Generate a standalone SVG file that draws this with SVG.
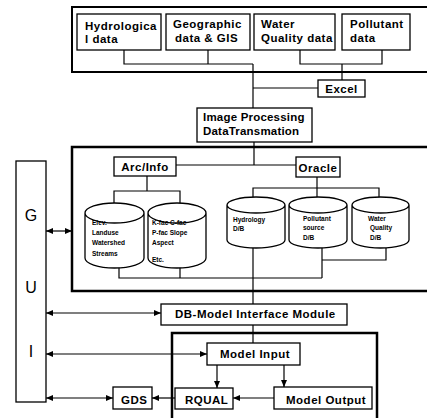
<svg xmlns="http://www.w3.org/2000/svg" width="427" height="418" viewBox="0 0 427 418">
<defs>
<marker id="ah" markerWidth="7" markerHeight="6" refX="7" refY="3" orient="auto-start-reverse" markerUnits="userSpaceOnUse"><path d="M0,0 L7,3 L0,6 z" fill="#000"/></marker>
</defs>
<style>
.box{fill:#fff;stroke:#000;stroke-width:1.3}
.frame{fill:none;stroke:#000;stroke-width:2.5}
.cyl{fill:#fff;stroke:#000;stroke-width:1.3}
.ln{fill:none;stroke:#000;stroke-width:1.2}
.arr{fill:none;stroke:#000;stroke-width:1.2;marker-end:url(#ah)}
.darr{fill:none;stroke:#000;stroke-width:1.2;marker-start:url(#ah);marker-end:url(#ah)}
text{font-family:"Liberation Sans",Arial,sans-serif;font-weight:bold;fill:#000}
.t{font-size:11.5px;letter-spacing:0.5px}
.s{font-size:6.5px}
.g{font-size:16px;font-weight:normal}
</style>
<rect width="427" height="418" fill="#fff"/>
<g id="frames">
<rect class="frame" x="72" y="7" width="360" height="65" style="stroke-width:2"/>
<rect class="frame" x="72" y="147" width="360" height="144"/>
<rect class="frame" x="172" y="333" width="205" height="95"/>
</g>
<g id="connectors">
<polyline class="ln" points="124,50 124,64 253,64"/>
<line class="ln" x1="208" y1="50" x2="208" y2="64"/>
<line class="ln" x1="253" y1="64" x2="253" y2="108"/>
<line class="ln" x1="253" y1="88" x2="318" y2="88"/>
<polyline class="ln" points="300,50 300,64 382,64 382,50"/>
<line class="ln" x1="342" y1="64" x2="342" y2="80"/>
<line class="ln" x1="254" y1="142" x2="254" y2="165"/>
<line class="ln" x1="176" y1="165" x2="296" y2="165"/>
<polyline class="ln" points="147,176 147,191"/>
<polyline class="ln" points="114,206 114,191 180,191 180,206"/>
<line class="ln" x1="317" y1="177" x2="317" y2="203"/>
<polyline class="ln" points="253,203 253,188 379,188 379,203"/>
<polyline class="ln" points="119,266 119,278 322,278"/>
<line class="ln" x1="180" y1="266" x2="180" y2="278"/>
<line class="ln" x1="322" y1="247" x2="322" y2="278"/>
<polyline class="ln" points="386,247 386,260 322,260"/>
<line class="ln" x1="253" y1="247" x2="253" y2="304"/>
<line class="ln" x1="253" y1="325" x2="253" y2="343"/>
<line class="arr" x1="217" y1="365" x2="217" y2="388"/>
<line class="arr" x1="284" y1="365" x2="284" y2="387"/>
<line class="arr" x1="274" y1="398" x2="233" y2="398"/>
<line class="arr" x1="175" y1="398" x2="152" y2="398"/>
<line class="darr" x1="46" y1="231" x2="72" y2="231"/>
<line class="darr" x1="46" y1="313" x2="161" y2="313"/>
<line class="darr" x1="46" y1="354" x2="207" y2="354"/>
<line class="darr" x1="46" y1="398" x2="113" y2="398"/>
</g>
<g id="hydrological">
<rect class="box" x="77" y="14" width="84" height="36"/>
<text class="t" x="85" y="30">Hydrologica</text>
<text class="t" x="85" y="43">l data</text>
</g>
<g id="geographic">
<rect class="box" x="166" y="14" width="84" height="36"/>
<text class="t" x="173" y="28">Geographic</text>
<text class="t" x="175" y="42">data &amp; GIS</text>
</g>
<g id="waterquality">
<rect class="box" x="254" y="14" width="81" height="36"/>
<text class="t" x="261" y="28">Water</text>
<text class="t" x="261" y="42">Quality data</text>
</g>
<g id="pollutant">
<rect class="box" x="342" y="14" width="68" height="36"/>
<text class="t" x="350" y="28">Pollutant</text>
<text class="t" x="350" y="42">data</text>
</g>
<g id="excel">
<rect class="box" x="318" y="80" width="47" height="17"/>
<text class="t" x="341.5" y="93" text-anchor="middle">Excel</text>
</g>
<g id="imageprocessing">
<rect class="box" x="197" y="108" width="115" height="34"/>
<text class="t" x="203" y="121" style="letter-spacing:0.2px">Image Processing</text>
<text class="t" x="203" y="135" style="letter-spacing:0.2px">DataTransmation</text>
</g>
<g id="arcinfo">
<rect class="box" x="114" y="157" width="62" height="19"/>
<text class="t" x="145" y="171" text-anchor="middle">Arc/Info</text>
</g>
<g id="oracle">
<rect class="box" x="296" y="157" width="44" height="20"/>
<text class="t" x="318" y="172" text-anchor="middle">Oracle</text>
</g>
<g id="db-elev">
<path class="cyl" d="M85,213 A29.5,10 0 0 1 144,213 L144,258 A29.5,10 0 0 1 85,258 Z M85,213 A29.5,10 0 0 0 144,213"/>
<text class="s" x="92" y="225">Elev.</text>
<text class="s" x="92" y="235">Landuse</text>
<text class="s" x="92" y="245">Watershed</text>
<text class="s" x="92" y="256">Streams</text>
</g>
<g id="db-kfac">
<path class="cyl" d="M148,213 A29,10 0 0 1 206,213 L206,258 A29,10 0 0 1 148,258 Z M148,213 A29,10 0 0 0 206,213"/>
<text class="s" x="152" y="225">K-fac C-fac</text>
<text class="s" x="152" y="235">P-fac Slope</text>
<text class="s" x="152" y="245">Aspect</text>
<text class="s" x="152" y="262">Etc.</text>
</g>
<g id="db-hydrology">
<path class="cyl" d="M227,205 A29,8 0 0 1 285,205 L285,240 A29,8 0 0 1 227,240 Z M227,205 A29,8 0 0 0 285,205"/>
<text class="s" x="233" y="222">Hydrology</text>
<text class="s" x="233" y="231">D/B</text>
</g>
<g id="db-pollutant">
<path class="cyl" d="M289,205 A29,8 0 0 1 347,205 L347,240 A29,8 0 0 1 289,240 Z M289,205 A29,8 0 0 0 347,205"/>
<text class="s" x="303" y="221">Pollutant</text>
<text class="s" x="303" y="230">source</text>
<text class="s" x="303" y="240">D/B</text>
</g>
<g id="db-water">
<path class="cyl" d="M352,205 A28.5,8 0 0 1 409,205 L409,240 A28.5,8 0 0 1 352,240 Z M352,205 A28.5,8 0 0 0 409,205"/>
<text class="s" x="368" y="221">Water</text>
<text class="s" x="370" y="230">Quality</text>
<text class="s" x="370" y="240">D/B</text>
</g>
<g id="gui">
<rect class="box" x="16" y="161" width="30" height="241"/>
<text class="g" x="31" y="221" text-anchor="middle">G</text>
<text class="g" x="31" y="293" text-anchor="middle">U</text>
<text class="g" x="31" y="357" text-anchor="middle">I</text>
</g>
<g id="dbmodel">
<rect class="box" x="161" y="304" width="186" height="21"/>
<text class="t" x="175" y="318">DB-Model Interface Module</text>
</g>
<g id="modelinput">
<rect class="box" x="207" y="343" width="93" height="22"/>
<text class="t" x="220" y="358">Model Input</text>
</g>
<g id="rqual">
<rect class="box" x="175" y="388" width="58" height="21"/>
<text class="t" x="185" y="404">RQUAL</text>
</g>
<g id="modeloutput">
<rect class="box" x="274" y="387" width="98" height="22"/>
<text class="t" x="286" y="404">Model Output</text>
</g>
<g id="gds">
<rect class="box" x="113" y="387" width="39" height="22"/>
<text class="t" x="121" y="404">GDS</text>
</g>
</svg>
